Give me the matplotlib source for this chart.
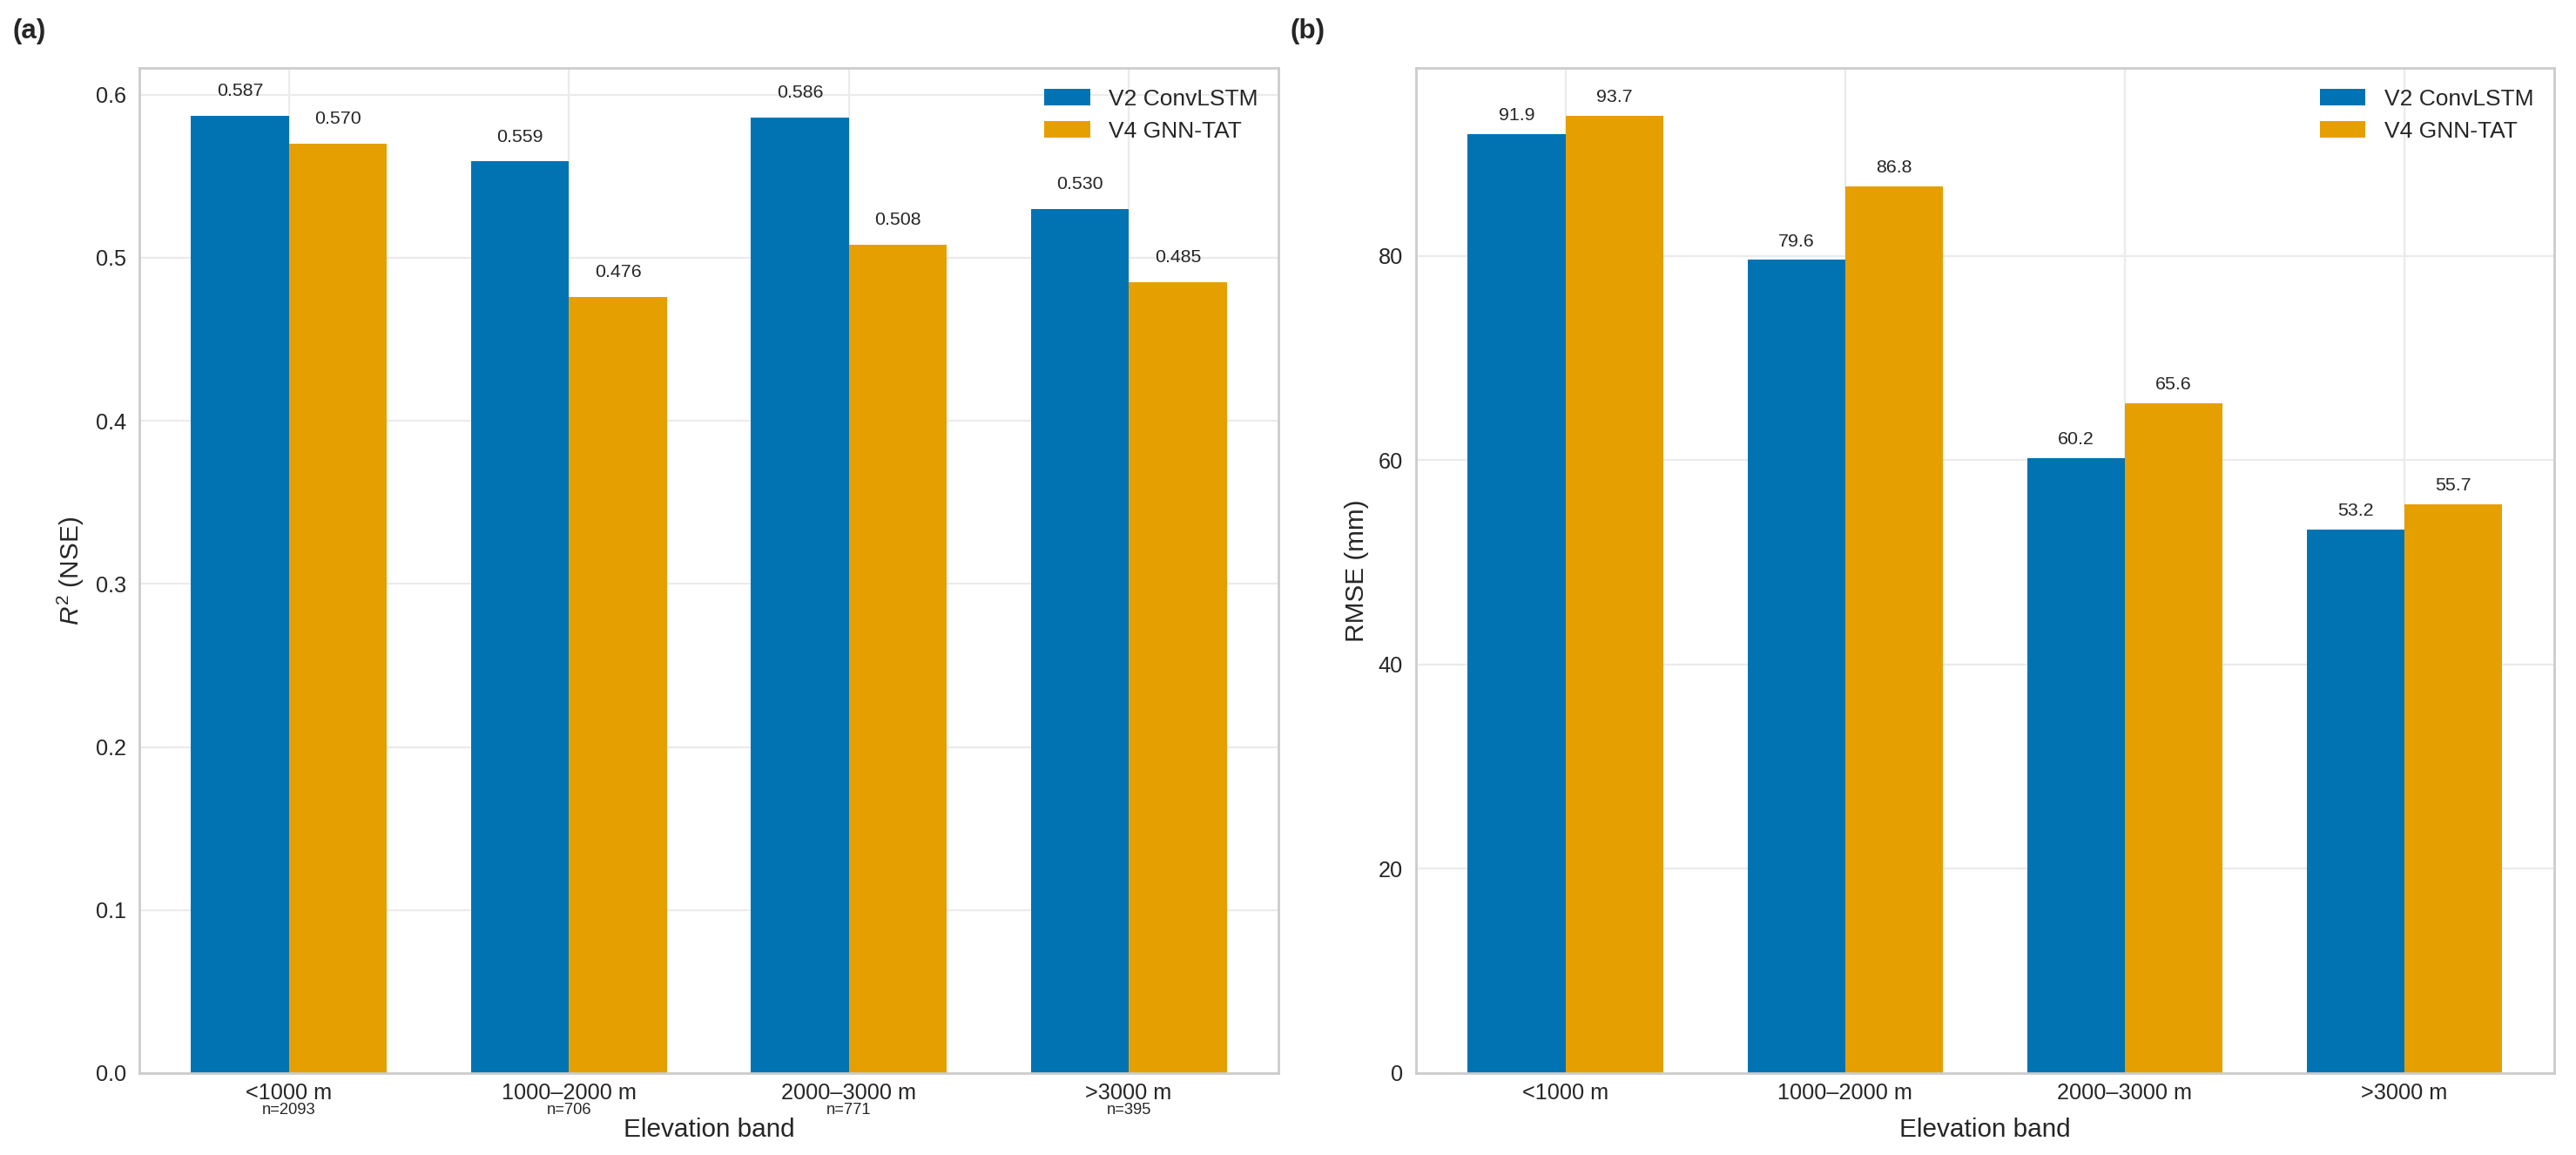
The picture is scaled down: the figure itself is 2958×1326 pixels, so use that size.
import numpy as np
import matplotlib
matplotlib.use("Agg")
import matplotlib.pyplot as plt
import matplotlib.transforms as mtransforms
import seaborn as sns

# Elevation-band skill scores, V2 ConvLSTM vs V4 GNN-TAT
BANDS = ["<1000 m", "1000–2000 m", "2000–3000 m", ">3000 m"]
N_CELLS = [2093, 706, 771, 395]
R2_V2 = [0.587, 0.559, 0.586, 0.530]
R2_V4 = [0.570, 0.476, 0.508, 0.485]
RMSE_V2 = [91.9, 79.6, 60.2, 53.2]
RMSE_V4 = [93.7, 86.8, 65.6, 55.7]

MODEL_NAMES = ["V2 ConvLSTM", "V4 GNN-TAT"]
COLORS = ["#0173B2", "#E69F00"]
WIDTH = 0.35
TEXT = "#262626"

sns.set_style("whitegrid")
plt.rcParams["font.family"] = ["Liberation Sans", "DejaVu Sans"]
plt.rcParams["mathtext.fontset"] = "custom"
plt.rcParams["mathtext.rm"] = "Liberation Sans"
plt.rcParams["mathtext.it"] = "Liberation Sans:italic"
plt.rcParams["axes.edgecolor"] = "#cccccc"
plt.rcParams["axes.linewidth"] = 1.0
plt.rcParams["grid.color"] = "#ebebeb"
plt.rcParams["grid.linewidth"] = 0.8


def draw_panel(ax, v2, v4, fmt, ylabel, offset):
    x = np.arange(len(BANDS))
    for i, (vals, name, col) in enumerate(zip([v2, v4], MODEL_NAMES, COLORS)):
        b = ax.bar(x + (i - 0.5) * WIDTH, vals, WIDTH, color=col, label=name,
                   linewidth=0, zorder=2)
        for rect, v in zip(b, vals):
            ax.text(rect.get_x() + rect.get_width() / 2, v + offset, fmt.format(v),
                    ha="center", va="bottom", fontsize=7.7, color=TEXT)
    ax.set_ylim(0, max(max(v2), max(v4)) * 1.05)
    ax.set_xticks(x)
    ax.set_xticklabels(BANDS)
    ax.set_ylabel(ylabel, fontsize=10.7, color=TEXT)
    ax.set_xlabel("Elevation band", fontsize=10.7, color=TEXT, labelpad=5.7)
    ax.tick_params(axis="both", length=0, labelsize=9.1, colors=TEXT)
    ax.tick_params(axis="x", pad=4.0)
    ax.tick_params(axis="y", pad=5.4)
    ax.legend(loc="upper right", frameon=False, fontsize=9.5)
    ax.grid(True, zorder=0)
    ax.set_axisbelow(True)
    return x


fig = plt.figure(figsize=(14.79, 6.63), dpi=200)
ax_a = fig.add_axes([0.0541, 0.0709, 0.4422, 0.8703])
ax_b = fig.add_axes([0.5497, 0.0709, 0.4418, 0.8703])

x = draw_panel(ax_a, R2_V2, R2_V4, "{:.3f}", "$R^2$ (NSE)", 0.01)
trans = mtransforms.blended_transform_factory(ax_a.transData, ax_a.transAxes)
for xi, n in zip(x, N_CELLS):
    ax_a.text(xi, -0.0407, f"n={n}", transform=trans, ha="center", va="baseline",
              fontsize=6.6, color=TEXT)

draw_panel(ax_b, RMSE_V2, RMSE_V4, "{:.1f}", "RMSE (mm)", 1.0)

fig.text(0.005, 0.9725, "(a)", fontsize=11.3, fontweight="bold", va="center", ha="left",
         color=TEXT)
fig.text(0.501, 0.9725, "(b)", fontsize=11.3, fontweight="bold", va="center", ha="left",
         color=TEXT)

fig.savefig("out.png", dpi=200)
